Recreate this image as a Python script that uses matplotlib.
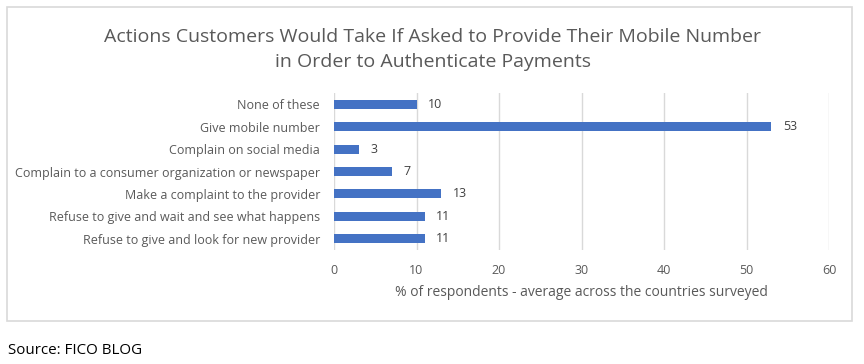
import matplotlib.pyplot as plt
from matplotlib.patches import Rectangle

# data (top to bottom as shown)
categories = [
    "None of these",
    "Give mobile number",
    "Complain on social media",
    "Complain to a consumer organization or newspaper",
    "Make a complaint to the provider",
    "Refuse to give and wait and see what happens",
    "Refuse to give and look for new provider",
]
values = [10, 53, 3, 7, 13, 11, 11]
x_ticks = [0, 10, 20, 30, 40, 50, 60]

plt.rcParams['font.family'] = ['Open Sans', 'DejaVu Sans']
text_col = '#595959'
grid_col = '#d9d9d9'
bar_col = '#4472C4'

W, H = 864, 364
fig = plt.figure(figsize=(W / 100, H / 100), dpi=100)

# chart border
fig.patches.append(Rectangle((7 / W, 1 - 321 / H), 845 / W, 314 / H,
                             transform=fig.transFigure, fill=False,
                             edgecolor=grid_col, linewidth=1.2))

ax = fig.add_axes([334 / W, 1 - 250 / H, 495 / W, 157 / H])
ypos = list(range(len(categories)))[::-1]
ax.barh(ypos, values, height=0.4, color=bar_col, zorder=3)
for y, v in zip(ypos, values):
    ax.text(v + 1.4, y, str(v), va='center', ha='left', fontsize=9, color='#404040')

ax.set_xlim(0, 60)
ax.set_ylim(-0.5, 6.5)
ax.set_xticks(x_ticks)
ax.set_yticks(ypos)
ax.set_yticklabels(categories)
ax.tick_params(axis='both', length=0, labelsize=9, labelcolor=text_col)
ax.tick_params(axis='x', pad=10)
ax.tick_params(axis='y', pad=10)
ax.xaxis.grid(True, color=grid_col, linewidth=1, zorder=0)
for s in ax.spines.values():
    s.set_visible(False)
ax.set_xlabel("% of respondents - average across the countries surveyed",
              fontsize=10, color=text_col, labelpad=6)

fig.text(433 / W, 1 - 37 / H,
         "Actions Customers Would Take If Asked to Provide Their Mobile Number",
         ha='center', va='center', fontsize=14, color=text_col)
fig.text(433 / W, 1 - 62 / H, "in Order to Authenticate Payments",
         ha='center', va='center', fontsize=14, color=text_col)

fig.text(8 / W, 1 - 350 / H, "Source: FICO BLOG", ha='left', va='center',
         fontsize=10.9, color='#000000')

plt.savefig('out.png', dpi=100)
plt.close()
